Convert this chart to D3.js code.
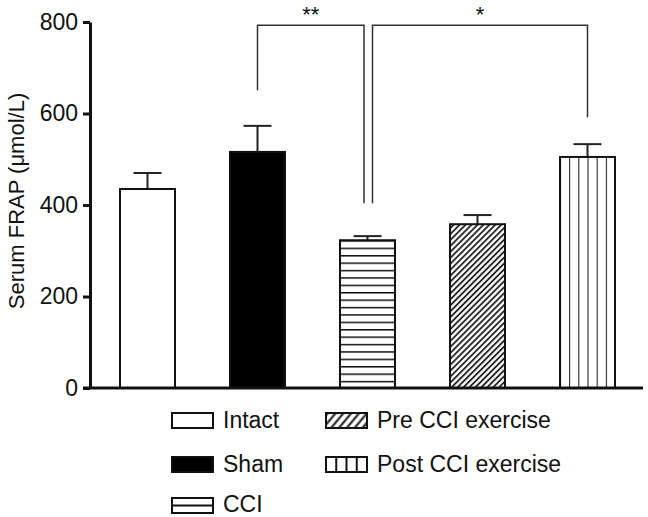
<!DOCTYPE html>
<html>
<head>
<meta charset="utf-8">
<script src="https://cdn.jsdelivr.net/npm/d3@7"></script>
<style>
  body { margin: 0; background: white; }
  text { font-family: "Liberation Sans", Arial, sans-serif; }
</style>
</head>
<body>
<div id="vis"></div>
<script>
// Datos
const grupos = ["Intact", "Sham", "CCI", "Pre CCI exercise", "Post CCI exercise"];
const medias = [435, 516, 323, 358, 505];
const errores = [35, 57, 9, 20, 28];
const rellenos = ["white", "black", "url(#horiz)", "url(#diag)", "url(#vert)"];
const ticksY = [0, 200, 400, 600, 800];
// comparaciones: [grupo izq, grupo der, etiqueta, fin izq, fin der, altura]
const comparaciones = [
  ["Sham", "CCI", "**", 651, 404, 793],
  ["CCI", "Post CCI exercise", "*", 404, 592, 793]
];

const ancho = 648, alto = 517;

const svg = d3.select("#vis").append("svg")
  .attr("width", ancho)
  .attr("height", alto);

const escalaX = d3.scaleBand()
  .domain(grupos)
  .range([90, 645])
  .paddingInner(0.5)
  .paddingOuter(0.2727);

const escalaY = d3.scaleLinear()
  .domain([0, 800])
  .range([388, 22]);

const bw = escalaX.bandwidth();

// Patrones
const defs = svg.append("defs");
const pH = defs.append("pattern").attr("id", "horiz")
  .attr("patternUnits", "userSpaceOnUse")
  .attr("width", 10).attr("height", 7.4)
  .attr("y", escalaY(medias[2]));
pH.append("line").attr("x1", 0).attr("x2", 10).attr("y1", 0).attr("y2", 0)
  .attr("stroke", "#111").attr("stroke-width", 3);

const pD = defs.append("pattern").attr("id", "diag")
  .attr("patternUnits", "userSpaceOnUse")
  .attr("width", 4.2).attr("height", 10)
  .attr("patternTransform", "rotate(45)");
pD.append("line").attr("x1", 1).attr("x2", 1).attr("y1", 0).attr("y2", 10)
  .attr("stroke", "#111").attr("stroke-width", 1.7);

const pV = defs.append("pattern").attr("id", "vert")
  .attr("patternUnits", "userSpaceOnUse")
  .attr("width", bw / 6).attr("height", 10)
  .attr("x", escalaX("Post CCI exercise"));
pV.append("line").attr("x1", 0).attr("x2", 0).attr("y1", 0).attr("y2", 10)
  .attr("stroke", "#111").attr("stroke-width", 2);

// patrones de la leyenda
const lD = defs.append("pattern").attr("id", "ldiag")
  .attr("patternUnits", "userSpaceOnUse")
  .attr("width", 6).attr("height", 10)
  .attr("patternTransform", "rotate(40)");
lD.append("line").attr("x1", 1.5).attr("x2", 1.5).attr("y1", 0).attr("y2", 10)
  .attr("stroke", "#111").attr("stroke-width", 2);

// Barras
const datos = grupos.map((g, i) => ({ g, m: medias[i], e: errores[i], f: rellenos[i] }));

// barras de error
svg.selectAll(".err")
  .data(datos)
  .enter()
  .append("line")
  .attr("x1", d => escalaX(d.g) + bw / 2)
  .attr("x2", d => escalaX(d.g) + bw / 2)
  .attr("y1", d => escalaY(d.m))
  .attr("y2", d => escalaY(d.m + d.e))
  .attr("stroke", "#222")
  .attr("stroke-width", 2);

svg.selectAll(".cap")
  .data(datos)
  .enter()
  .append("line")
  .attr("x1", d => escalaX(d.g) + bw / 2 - 14)
  .attr("x2", d => escalaX(d.g) + bw / 2 + 14)
  .attr("y1", d => escalaY(d.m + d.e))
  .attr("y2", d => escalaY(d.m + d.e))
  .attr("stroke", "#222")
  .attr("stroke-width", 2);

svg.selectAll(".barra")
  .data(datos)
  .enter()
  .append("rect")
  .attr("x", d => escalaX(d.g))
  .attr("y", d => escalaY(d.m))
  .attr("width", bw)
  .attr("height", d => escalaY(0) - escalaY(d.m))
  .attr("fill", d => d.f)
  .attr("stroke", "#111")
  .attr("stroke-width", 2);

// Ejes
const ejeY = svg.append("g")
  .attr("transform", "translate(90,0)")
  .call(d3.axisLeft(escalaY).tickValues(ticksY).tickSize(7).tickSizeOuter(0).tickPadding(5));
ejeY.selectAll("text").attr("font-size", "23px").attr("fill", "#111")
  .style("font-family", "'Liberation Sans', Arial, sans-serif");
ejeY.selectAll("line").attr("stroke", "#111").attr("stroke-width", 3);
ejeY.select(".domain").attr("stroke", "#111").attr("stroke-width", 3);

const ejeX = svg.append("g")
  .attr("transform", `translate(0,${escalaY(0)})`)
  .call(d3.axisBottom(escalaX).tickValues([]).tickSizeOuter(0));
ejeX.select(".domain").attr("stroke", "#111").attr("stroke-width", 3)
  .attr("d", "M83,0H643");

svg.append("text")
  .attr("transform", `translate(24,201) rotate(-90)`)
  .attr("text-anchor", "middle")
  .attr("font-size", "22px")
  .attr("fill", "#111")
  .text("Serum FRAP (μmol/L)");

// Corchetes de significancia
comparaciones.forEach((c, i) => {
  const xa = escalaX(c[0]) + bw / 2 + (i === 1 ? 5 : 0);
  const xb = escalaX(c[1]) + bw / 2 - (i === 0 ? 3.5 : 0);
  const yt = escalaY(c[5]);
  svg.append("path")
    .attr("d", `M${xa},${escalaY(c[3])}V${yt}H${xb}V${escalaY(c[4])}`)
    .attr("fill", "none")
    .attr("stroke", "#333")
    .attr("stroke-width", 1.5);
  svg.append("text")
    .attr("x", (xa + xb) / 2)
    .attr("y", yt - 3)
    .attr("text-anchor", "middle")
    .attr("font-size", "22px")
    .attr("fill", "#111")
    .text(c[2]);
});

// Leyenda
const rellenosLeyenda = ["white", "black", "white", "url(#ldiag)", "white"];
const posLeyenda = [[172, 413], [172, 457], [172, 498], [326, 413], [326, 457]];
const leyenda = svg.selectAll(".ley")
  .data(grupos)
  .enter()
  .append("g")
  .attr("transform", (d, i) => `translate(${posLeyenda[i][0]},${posLeyenda[i][1]})`);

leyenda.append("rect")
  .attr("width", 41)
  .attr("height", 15)
  .attr("fill", (d, i) => rellenosLeyenda[i])
  .attr("stroke", "#111")
  .attr("stroke-width", 2);

leyenda.filter(d => d === "CCI")
  .append("line")
  .attr("x1", 0).attr("x2", 41).attr("y1", 7.5).attr("y2", 7.5)
  .attr("stroke", "#111").attr("stroke-width", 2);

leyenda.filter(d => d === "Post CCI exercise")
  .selectAll("line")
  .data([1, 2, 3])
  .enter()
  .append("line")
  .attr("x1", d => d * 41 / 4).attr("x2", d => d * 41 / 4)
  .attr("y1", 0).attr("y2", 15)
  .attr("stroke", "#111").attr("stroke-width", 2);

leyenda.append("text")
  .attr("x", 51)
  .attr("y", d => d === "CCI" ? 14 : 15)
  .attr("font-size", "23px")
  .attr("fill", "#111")
  .text(d => d);
</script>
</body>
</html>
